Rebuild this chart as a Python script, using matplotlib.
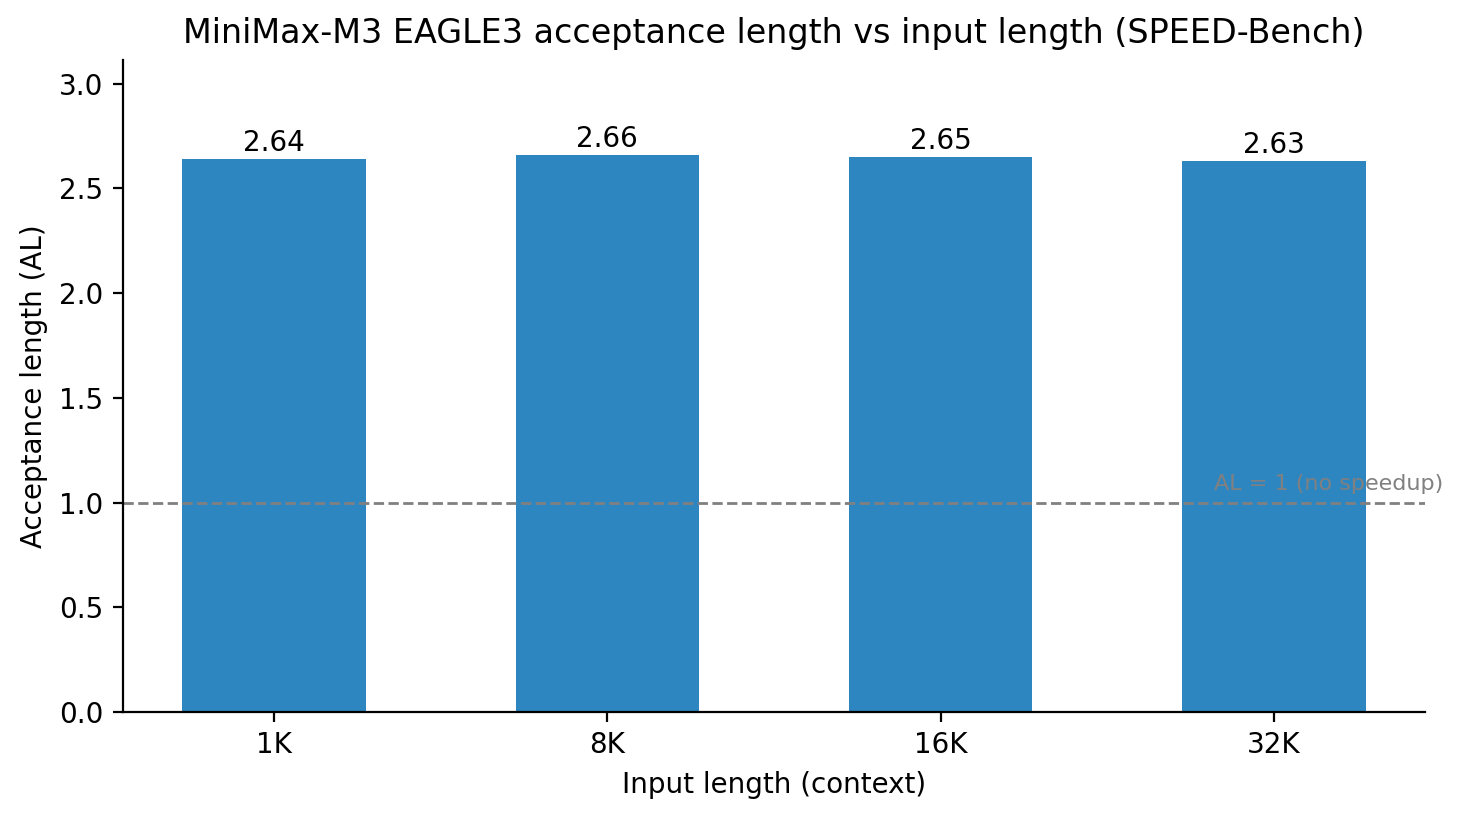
import matplotlib
matplotlib.use("Agg")
import matplotlib.pyplot as plt
import numpy as np

contexts = ["1K", "8K", "16K", "32K"]
accept_len = [2.64, 2.66, 2.65, 2.63]

fig, ax = plt.subplots(figsize=(14.61 / 2, 8.19 / 2), dpi=200)
fig.subplots_adjust(left=0.0842, right=0.9754, top=0.9267, bottom=0.1306)
x = np.arange(len(contexts))
bars = ax.bar(x, accept_len, width=0.55, color="#2E86C1")
for b, v in zip(bars, accept_len):
    ax.text(b.get_x() + b.get_width() / 2, v + 0.01, f"{v:.2f}",
            ha="center", va="bottom", fontsize=10)

ax.axhline(1.0, color="gray", linestyle="--", linewidth=1)
ax.text(2.82, 1.04, "AL = 1 (no speedup)", color="gray", fontsize=8, va="bottom")

ax.set_xticks(x)
ax.set_xticklabels(contexts)
ax.set_ylim(0, max(accept_len) * 1.17)
ax.set_xlabel("Input length (context)")
ax.set_ylabel("Acceptance length (AL)")
ax.set_title("MiniMax-M3 EAGLE3 acceptance length vs input length (SPEED-Bench)")
ax.spines["top"].set_visible(False)
ax.spines["right"].set_visible(False)

fig.savefig("out.png")
